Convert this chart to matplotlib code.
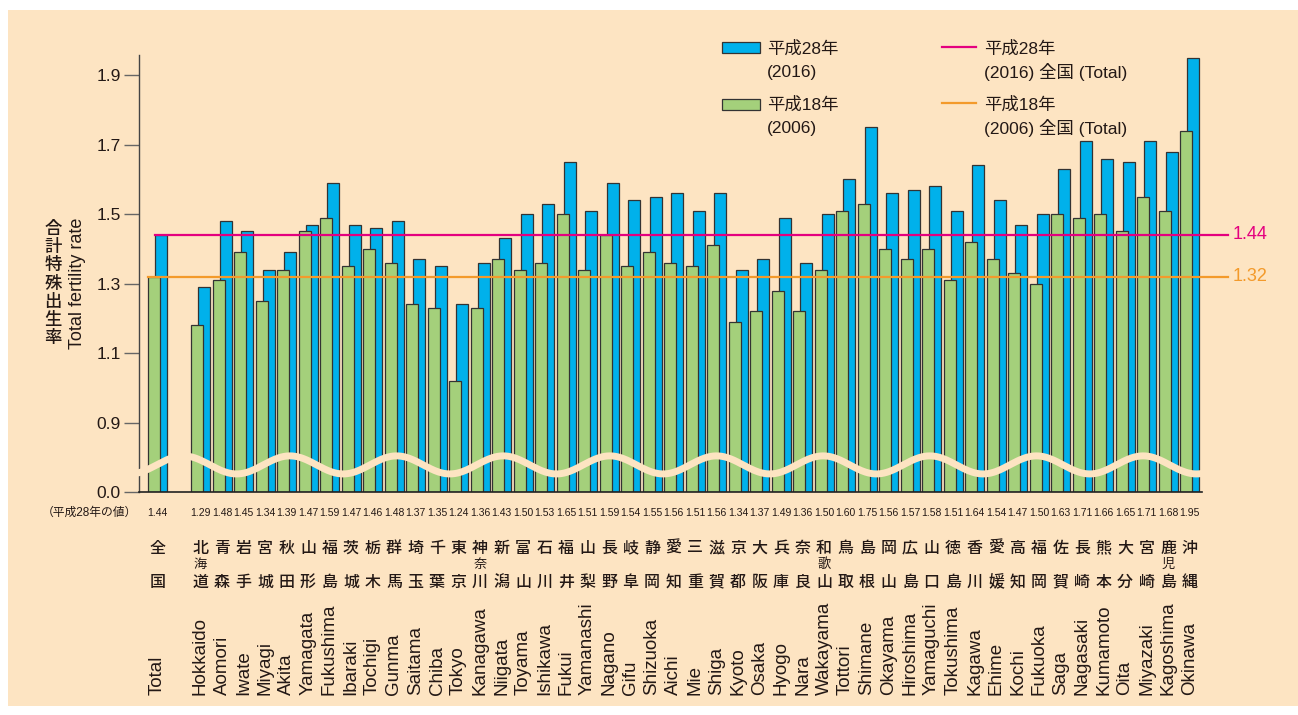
"""
Total fertility rate by prefecture, 2016 vs 2006 (broken y axis)
"""

import numpy as np
import matplotlib.pyplot as plt
from matplotlib.patches import Rectangle
from matplotlib.lines import Line2D

plt.rcParams["font.family"] = ["Liberation Sans", "Noto Sans CJK JP"]

# data
prefs_ja = [
    "北海道", "青森", "岩手", "宮城", "秋田", "山形", "福島", "茨城", "栃木",
    "群馬", "埼玉", "千葉", "東京", "神奈川", "新潟", "富山", "石川", "福井",
    "山梨", "長野", "岐阜", "静岡", "愛知", "三重", "滋賀", "京都", "大阪",
    "兵庫", "奈良", "和歌山", "鳥取", "島根", "岡山", "広島", "山口", "徳島",
    "香川", "愛媛", "高知", "福岡", "佐賀", "長崎", "熊本", "大分", "宮崎",
    "鹿児島", "沖縄",
]
prefs_en = [
    "Hokkaido", "Aomori", "Iwate", "Miyagi", "Akita", "Yamagata", "Fukushima",
    "Ibaraki", "Tochigi", "Gunma", "Saitama", "Chiba", "Tokyo", "Kanagawa",
    "Niigata", "Toyama", "Ishikawa", "Fukui", "Yamanashi", "Nagano", "Gifu",
    "Shizuoka", "Aichi", "Mie", "Shiga", "Kyoto", "Osaka", "Hyogo", "Nara",
    "Wakayama", "Tottori", "Shimane", "Okayama", "Hiroshima", "Yamaguchi",
    "Tokushima", "Kagawa", "Ehime", "Kochi", "Fukuoka", "Saga", "Nagasaki",
    "Kumamoto", "Oita", "Miyazaki", "Kagoshima", "Okinawa",
]
rate_2016 = [
    1.29, 1.48, 1.45, 1.34, 1.39, 1.47, 1.59, 1.47, 1.46, 1.48, 1.37, 1.35,
    1.24, 1.36, 1.43, 1.50, 1.53, 1.65, 1.51, 1.59, 1.54, 1.55, 1.56, 1.51,
    1.56, 1.34, 1.37, 1.49, 1.36, 1.50, 1.60, 1.75, 1.56, 1.57, 1.58, 1.51,
    1.64, 1.54, 1.47, 1.50, 1.63, 1.71, 1.66, 1.65, 1.71, 1.68, 1.95,
]
rate_2006 = [
    1.18, 1.31, 1.39, 1.25, 1.34, 1.45, 1.49, 1.35, 1.40, 1.36, 1.24, 1.23,
    1.02, 1.23, 1.37, 1.34, 1.36, 1.50, 1.34, 1.44, 1.35, 1.39, 1.36, 1.35,
    1.41, 1.19, 1.22, 1.28, 1.22, 1.34, 1.51, 1.53, 1.40, 1.37, 1.40, 1.31,
    1.42, 1.37, 1.33, 1.30, 1.50, 1.49, 1.50, 1.45, 1.55, 1.51, 1.74,
]
total_2016 = 1.44
total_2006 = 1.32

tick_values = [0.9, 1.1, 1.3, 1.5, 1.7, 1.9]

# styles
BG = "#fde4c2"
BLUE = "#00b1eb"
GREEN = "#a4d07b"
EDGE = "#333333"
PINK = "#e4007f"
ORANGE = "#f39a2b"
TXT = "#231815"
BASE = 0.7  # where the broken axis shows "0.0"

fig = plt.figure(figsize=(12.98, 7.15), dpi=100, facecolor="white")
fig.add_artist(Rectangle((8 / 1298, 1 - 706 / 715), 1 - 8 / 1298, 696 / 715,
                         transform=fig.transFigure, facecolor=BG,
                         edgecolor="none", zorder=0))

ax = fig.add_axes([139 / 1298, 1 - 492 / 715, 1063 / 1298, 437 / 715])
ax.set_facecolor(BG)
ax.patch.set_alpha(0)

groups = np.concatenate([[0], np.arange(len(prefs_ja)) + 2])
v16 = np.array([total_2016] + rate_2016)
v06 = np.array([total_2006] + rate_2006)
w = 0.56

ax.bar(groups + 0.17, v16 - BASE, bottom=BASE, width=w, color=BLUE,
       edgecolor=EDGE, linewidth=0.9, zorder=1)
ax.bar(groups - 0.16, v06 - BASE, bottom=BASE, width=w, color=GREEN,
       edgecolor=EDGE, linewidth=0.9, zorder=1.5)

xl, xr = -0.86, 48.58
ax.set_xlim(xl, xr)
ax.set_ylim(BASE, 1.958)

# national average lines
x_end = (1228 - 157.5) / 21.5
ax.plot([0.17 - w / 2, x_end], [total_2016] * 2, color=PINK, lw=1.6,
        clip_on=False, zorder=4)
ax.plot([-0.16 - w / 2, x_end], [total_2006] * 2, color=ORANGE, lw=1.6,
        clip_on=False, zorder=4)
ax.text(x_end + 0.2, total_2016, "1.44", color=PINK, fontsize=13,
        va="center", ha="left")
ax.text(x_end + 0.2, total_2006, "1.32", color=ORANGE, fontsize=13,
        va="center", ha="left")

# wavy break
wx = np.linspace(-1.0, 48.55, 800)
wy = 0.778 - 0.026 * np.cos(2 * np.pi * (wx - 3.68) / 4.96)
ax.plot(wx, wy, color=BG, lw=5, clip_on=False, zorder=3, solid_capstyle="butt")

# axes styling
for s in ["top", "right"]:
    ax.spines[s].set_visible(False)
ax.spines["left"].set_color("#444444")
ax.spines["bottom"].set_color("#222222")
ax.spines["left"].set_linewidth(1.0)
ax.spines["bottom"].set_linewidth(1.2)
ax.set_yticks([BASE] + tick_values)
ax.set_yticklabels(["0.0"] + [f"{t:.1f}" for t in tick_values])
ax.tick_params(axis="y", length=11, width=1.0, color="#666666",
               labelsize=12.5, labelcolor=TXT, pad=2)
ax.set_xticks([])

# value row and category labels
xt = ax.get_xaxis_transform()
fig.text(137 / 1298, 1 - 513 / 715, "（平成28年の値）", fontsize=8.5,
         ha="right", va="center", color=TXT)
for g, v in zip(groups, v16):
    ax.text(g, -21 / 437, f"{v:.2f}", transform=xt, ha="center", va="center",
            fontsize=7.5, color=TXT,
            family=["Liberation Sans Narrow", "Liberation Sans"])

labels_ja = ["全国"] + prefs_ja
labels_en = ["Total"] + prefs_en
for g, ja, en in zip(groups, labels_ja, labels_en):
    ax.text(g, -56 / 437, ja[0], transform=xt, ha="center", va="center",
            fontsize=11.5, color=TXT, fontweight="medium")
    ax.text(g, -90 / 437, ja[-1], transform=xt, ha="center", va="center",
            fontsize=11.5, color=TXT, fontweight="medium")
    if len(ja) == 3:
        ax.text(g, -73 / 437, ja[1], transform=xt, ha="center", va="center",
                fontsize=9.5, color=TXT)
    ax.text(g, -203 / 437, en, transform=xt, ha="center", va="bottom",
            rotation=90, fontsize=13.5, color=TXT)

# y axis title: japanese stacked one character per line
ylab_ja = "合計特殊出生率"
for i, ch in enumerate(ylab_ja):
    fig.text(53 / 1298, 1 - (229 + i * 18.2) / 715, ch, fontsize=12.5,
             ha="center", va="center", color=TXT, fontweight="medium")
fig.text(77 / 1298, 1 - 283 / 715, "Total fertility rate", fontsize=13,
         ha="center", va="center", rotation=90, color=TXT)

# legend
def fx(px):
    return px / 1298


def fy(py):
    return 1 - py / 715


fig.add_artist(Rectangle((fx(722), fy(53)), fx(38), 11 / 715,
                         transform=fig.transFigure, facecolor=BLUE,
                         edgecolor=EDGE, lw=0.9))
fig.add_artist(Rectangle((fx(722), fy(110)), fx(38), 11 / 715,
                         transform=fig.transFigure, facecolor=GREEN,
                         edgecolor=EDGE, lw=0.9))
fig.add_artist(Line2D([fx(942), fx(976)], [fy(47)] * 2,
                      transform=fig.transFigure, color=PINK, lw=1.6))
fig.add_artist(Line2D([fx(942), fx(976)], [fy(103)] * 2,
                      transform=fig.transFigure, color=ORANGE, lw=1.6))
legend_txt = [
    (767, 49, "平成28年"), (767, 72, "(2016)"),
    (767, 105, "平成18年"), (767, 128, "(2006)"),
    (984, 49, "平成28年"), (984, 72, "(2016) 全国 (Total)"),
    (984, 105, "平成18年"), (984, 128, "(2006) 全国 (Total)"),
]
for px, py, t in legend_txt:
    fig.text(fx(px), fy(py), t, fontsize=12.5, ha="left", va="center",
             color=TXT)

fig.savefig("out.png", dpi=100, facecolor="white")
